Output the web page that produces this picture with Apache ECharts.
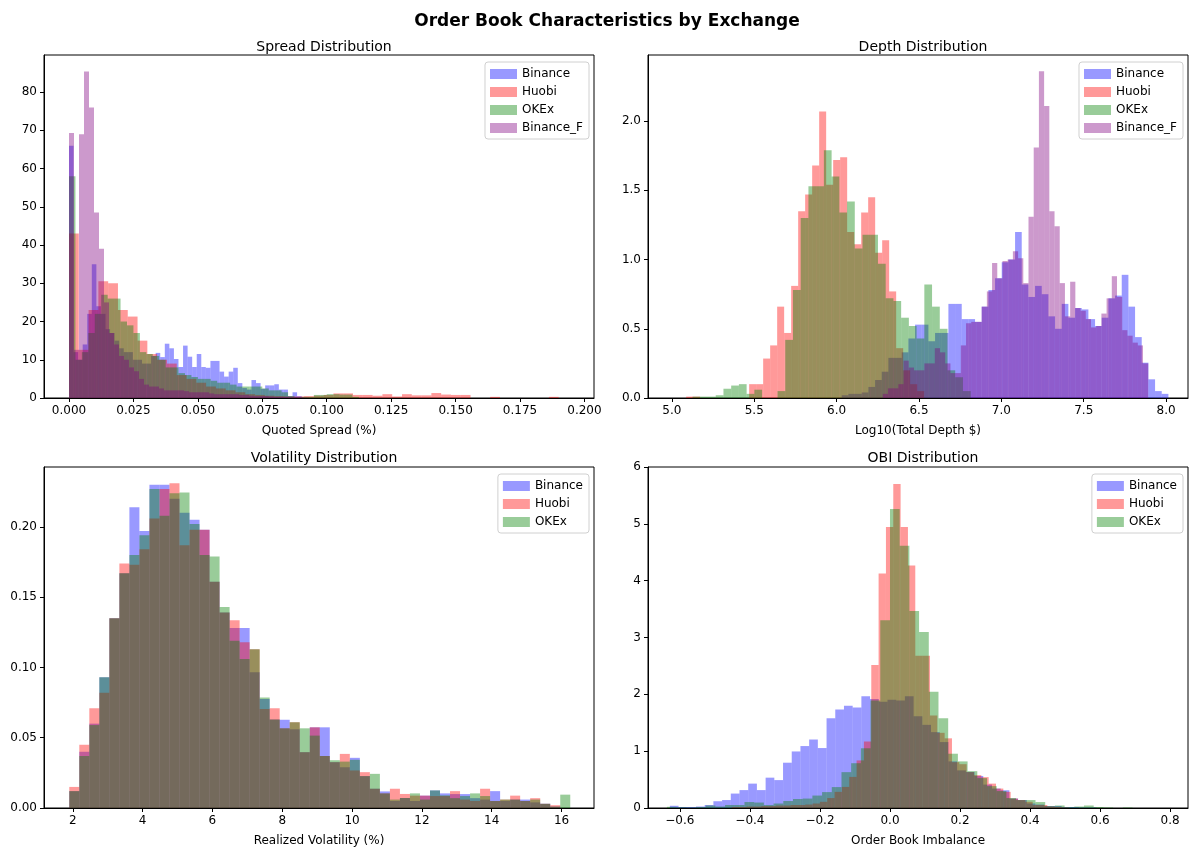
<!DOCTYPE html>
<html><head><meta charset="utf-8">
<script src="https://cdn.jsdelivr.net/npm/echarts@6/dist/echarts.min.js"></script>
<style>html,body{margin:0;padding:0;background:#fff}#c{width:1196px;height:848px}</style>
</head><body><div id="c"></div>
<script>
// ---------- DATA ----------
const exchanges4 = ['Binance', 'Huobi', 'OKEx', 'Binance_F'];
const exchanges3 = ['Binance', 'Huobi', 'OKEx'];

// Spread distribution (density) — bin start, bin width, heights
const spreadBinanceStart = 0, spreadBinanceWidth = 0.00177;
const spreadBinance = [66, 12, 10, 14, 22, 35, 24, 22, 18, 17, 15, 13, 12, 12, 10, 10, 9, 9, 11, 11.8, 10.7, 14.2, 13, 10.2, 8.1, 13.7, 10.8, 8.1, 11.5, 8.1, 7.9, 9.7, 9.7, 6.9, 5.6, 6.9, 7.9, 3.9, 2.6, 2.2, 4.7, 3.9, 2.4, 3.3, 3.3, 3.6, 2.2, 2.2, 0.5, 1.5, 0.5];
const spreadHuobiStart = 0, spreadHuobiWidth = 0.0038;
const spreadHuobi = [43, 12.6, 23, 30.5, 30, 23, 21.3, 15, 11.5, 10, 9, 6, 5, 4, 3, 2.5, 2, 1.5, 1, 0.8, 0.6, 0.5, 0.4, 0.4, 0.5, 0.6, 0.8, 1.2, 1.2, 0.8, 0.8, 0.6, 1.0, 0.4, 1.0, 0.7, 0.7, 1.3, 0.9, 0.8, 0.8, 0, 0, 0.3, 0, 0, 0, 0, 0, 0.3];
const spreadOKExStart = 0, spreadOKExWidth = 0.0025;
const spreadOKEx = [58, 10, 12, 17, 22, 27, 26, 26, 20, 19, 17, 12, 11.5, 11, 10, 8, 8, 6.5, 6, 5.5, 5, 5, 4.5, 4, 4, 3.5, 3, 3, 3, 3, 2.5, 2, 2, 1.5, 0.5, 0.2, 0.3, 0.3, 0.8, 0.8, 1.0, 1.0, 0.9, 0.9, 0.3];
const spreadBinanceFStart = 0, spreadBinanceFWidth = 0.00194;
const spreadBinanceF = [69.3, 12.6, 69, 85.4, 76, 48.5, 39, 25, 17, 14, 11, 10, 8, 7, 5, 3.5, 3, 3, 2.5, 2, 2, 2, 2, 1.8, 1.5, 1.5, 1.5, 1.5, 1.2, 1, 1, 1, 1, 1, 0.8, 0.8, 0.6, 0.5, 0.5, 0.5, 0.4, 0.3, 0.3, 0.3, 0.2, 0.2, 0.2, 0.1];

// Depth distribution (density over Log10 depth)
const depthBinanceStart = 6.031, depthBinanceWidth = 0.04047;
const depthBinance = [0.02, 0.03, 0.03, 0.04, 0.08, 0.13, 0.19, 0.29, 0.29, 0.33, 0.43, 0.53, 0.53, 0.41, 0.47, 0.47, 0.68, 0.68, 0.57, 0.57, 0.55, 0.66, 0.78, 0.865, 0.98, 1.0, 1.2, 0.82, 0.73, 0.81, 0.75, 0.59, 0.50, 0.68, 0.58, 0.65, 0.64, 0.57, 0.52, 0.58, 0.72, 0.74, 0.89, 0.66, 0.44, 0.255, 0.135, 0.05, 0.03];
const depthHuobiStart = 5.0865, depthHuobiWidth = 0.0425;
const depthHuobi = [0.01, 0.01, 0, 0, 0, 0, 0, 0, 0, 0.10, 0.10, 0.285, 0.38, 0.66, 0.47, 0.81, 1.35, 1.47, 1.68, 2.07, 1.54, 1.72, 1.74, 1.20, 1.11, 1.34, 1.45, 1.05, 1.14, 0.77, 0.36, 0.2, 0.1, 0.05];
const depthOKExStart = 5.1254, depthOKExWidth = 0.0469;
const depthOKEx = [0.01, 0.01, 0.01, 0.02, 0.067, 0.09, 0.10, 0.03, 0.06, 0, 0, 0.05, 0.42, 0.78, 1.30, 1.53, 1.53, 1.79, 1.60, 1.34, 1.42, 1.08, 1.18, 1.18, 0.97, 0.72, 0.70, 0.58, 0.52, 0.43, 0.82, 0.66, 0.50, 0.20, 0.15, 0.05];
const depthBinanceFStart = 6.28, depthBinanceFWidth = 0.0316;
const depthBinanceF = [0.03, 0.07, 0.07, 0.10, 0.27, 0.22, 0.2, 0.2, 0.25, 0.25, 0.36, 0.33, 0.25, 0.18, 0.18, 0.38, 0.54, 0.55, 0.55, 0.66, 0.77, 0.975, 0.865, 0.99, 1.0, 1.06, 1.01, 0.83, 1.31, 1.81, 2.36, 2.11, 1.35, 1.24, 0.83, 0.59, 0.84, 0.65, 0.63, 0.57, 0.51, 0.52, 0.61, 0.72, 0.88, 0.73, 0.49, 0.45, 0.40, 0.38, 0.25];

// Volatility distribution (density over realized volatility %)
const volStart = 1.9, volWidth = 0.287;
const volBinance = [0.012, 0.04, 0.06, 0.093, 0.135, 0.167, 0.214, 0.197, 0.23, 0.23, 0.22, 0.21, 0.205, 0.198, 0.161, 0.139, 0.128, 0.128, 0.0965, 0.0775, 0.063, 0.0628, 0.056, 0.0397, 0.0574, 0.0574, 0.0326, 0.029, 0.0357, 0.0227, 0.0137, 0.0118, 0.005, 0.0071, 0.005, 0.0088, 0.0125, 0.0104, 0.0099, 0.0099, 0.007, 0.006, 0.012, 0.005, 0.006, 0.006, 0.004, 0.003, 0.001, 0];
const volHuobi = [0.015, 0.045, 0.071, 0.082, 0.135, 0.174, 0.173, 0.184, 0.206, 0.227, 0.231, 0.187, 0.198, 0.198, 0.161, 0.139, 0.1335, 0.118, 0.113, 0.0704, 0.071, 0.0567, 0.061, 0.0397, 0.0574, 0.037, 0.0326, 0.0385, 0.0267, 0.0255, 0.0137, 0.0104, 0.0137, 0.010, 0.0088, 0.0088, 0.0085, 0.0085, 0.012, 0.006, 0.005, 0.0137, 0.005, 0.006, 0.0088, 0.005, 0.007, 0.003, 0.002, 0];
const volOKEx = [0.012, 0.037, 0.059, 0.093, 0.135, 0.167, 0.18, 0.194, 0.227, 0.208, 0.224, 0.2245, 0.202, 0.180, 0.179, 0.143, 0.119, 0.106, 0.113, 0.0787, 0.063, 0.0567, 0.061, 0.0567, 0.0515, 0.037, 0.034, 0.033, 0.0343, 0.0227, 0.0243, 0.0104, 0.006, 0.0071, 0.0104, 0.006, 0.0125, 0.009, 0.007, 0.0085, 0.0104, 0.0085, 0.005, 0.006, 0.006, 0.005, 0.006, 0.003, 0.001, 0.0095];

// Order book imbalance distribution (density)
const obiBinanceStart = -0.6286, obiBinanceWidth = 0.02486;
const obiBinance = [0.039, 0.018, 0.018, 0.026, 0.053, 0.119, 0.140, 0.254, 0.315, 0.429, 0.315, 0.534, 0.491, 0.797, 0.995, 1.090, 1.205, 1.055, 1.580, 1.731, 1.801, 1.769, 1.966, 1.918, 1.871, 1.906, 1.892, 1.966, 1.615, 1.463, 1.335, 1.160, 0.820, 0.662, 0.634, 0.564, 0.412, 0.342, 0.312, 0.166, 0.140, 0.079, 0.061, 0.035, 0.035, 0.018, 0.018, 0.009, 0.009];
const obiHuobiStart = -0.4515, obiHuobiWidth = 0.02095;
const obiHuobi = [0.018, 0.018, 0.026, 0.026, 0.035, 0.035, 0.044, 0.044, 0.053, 0.053, 0.061, 0.079, 0.109, 0.175, 0.284, 0.371, 0.547, 0.837, 1.170, 2.514, 4.126, 4.944, 5.703, 4.944, 4.266, 2.677, 2.677, 1.626, 1.323, 1.226, 0.806, 0.771, 0.631, 0.578, 0.543, 0.429, 0.342, 0.284, 0.166, 0.140, 0.109, 0.053, 0.053, 0.026, 0.018, 0.009];
const obiOKExStart = -0.6371, obiOKExWidth = 0.0277;
const obiOKEx = [0.021, 0.014, 0.009, 0.018, 0.044, 0.026, 0.053, 0.053, 0.105, 0.096, 0.053, 0.079, 0.123, 0.158, 0.166, 0.219, 0.280, 0.368, 0.631, 0.788, 1.051, 1.892, 3.302, 5.259, 4.616, 3.465, 3.097, 2.046, 1.580, 0.955, 0.820, 0.648, 0.526, 0.385, 0.298, 0.175, 0.140, 0.140, 0.105, 0.035, 0.044, 0.018, 0.026, 0.044, 0.018, 0.009, 0, 0.009, 0];

// Tick labels
const spreadXTicks = [0, 0.025, 0.05, 0.075, 0.1, 0.125, 0.15, 0.175, 0.2];
const spreadYTicks = [0, 10, 20, 30, 40, 50, 60, 70, 80];
const depthXTicks = [5.0, 5.5, 6.0, 6.5, 7.0, 7.5, 8.0];
const depthYTicks = [0, 0.5, 1.0, 1.5, 2.0];
const volXTicks = [2, 4, 6, 8, 10, 12, 14, 16];
const volYTicks = [0, 0.05, 0.10, 0.15, 0.20];
const obiXTicks = [-0.6, -0.4, -0.2, 0, 0.2, 0.4, 0.6, 0.8];
const obiYTicks = [0, 1, 2, 3, 4, 5, 6];

// ---------- CHART ----------
const FONT = 'DejaVu Sans';
const COLORS = {Binance: 'rgba(0,0,255,0.4)', Huobi: 'rgba(255,0,0,0.4)', OKEx: 'rgba(0,128,0,0.4)', Binance_F: 'rgba(128,0,128,0.4)'};

function bins(start, width, heights) {
  return heights.map((h, i) => [start + i * width, start + (i + 1) * width, h]);
}
function hist(name, idx, data) {
  return {
    type: 'custom', name: name, xAxisIndex: idx, yAxisIndex: idx, data: data,
    encode: {x: [0, 1], y: 2},
    itemStyle: {color: COLORS[name]},
    renderItem: function (params, api) {
      const a = api.coord([api.value(0), api.value(2)]);
      const b = api.coord([api.value(1), 0]);
      return {type: 'rect', shape: {x: a[0], y: a[1], width: b[0] - a[0], height: b[1] - a[1]},
        style: {fill: COLORS[name]}};
    }
  };
}
const minus = s => s.replace('-', '\u2212');
function xAx(idx, min, max, ticks, dec, name) {
  return {type: 'value', gridIndex: idx, min: min, max: max, name: name, nameLocation: 'middle', nameGap: 27,
    nameTextStyle: {color: '#000', fontSize: 12, fontFamily: FONT},
    axisLine: {show: true, onZero: false, lineStyle: {color: '#000', width: 1}},
    axisTick: {show: true, inside: false, length: 4, customValues: ticks, lineStyle: {color: '#000'}},
    axisLabel: {customValues: ticks, formatter: v => minus(Number(v).toFixed(dec)), margin: 7, color: '#000', fontSize: 12, fontFamily: FONT},
    splitLine: {show: false}};
}
function yAx(idx, min, max, ticks, dec) {
  return {type: 'value', gridIndex: idx, min: min, max: max,
    axisLine: {show: true, onZero: false, lineStyle: {color: '#000', width: 1}},
    axisTick: {show: true, inside: false, length: 4, customValues: ticks, lineStyle: {color: '#000'}},
    axisLabel: {customValues: ticks, formatter: v => minus(Number(v).toFixed(dec)), margin: 7, color: '#000', fontSize: 12, fontFamily: FONT},
    splitLine: {show: false}};
}
function leg(names, right, top) {
  return {data: names.map(n => ({name: n, itemStyle: {color: COLORS[n]}})), orient: 'vertical', right: right, top: top,
    icon: 'rect', itemWidth: 27, itemHeight: 10, itemGap: 4, padding: [5, 6, 4, 5],
    backgroundColor: 'rgba(255,255,255,0.8)', borderColor: '#d0d0d0', borderWidth: 1, borderRadius: 3,
    selectedMode: false, textStyle: {color: '#000', fontSize: 12, fontFamily: FONT, lineHeight: 14}};
}
const titleStyle = {fontSize: 14, fontWeight: 'normal', color: '#000', fontFamily: FONT};

const option = {
  animation: false,
  backgroundColor: '#fff',
  title: [
    {text: 'Order Book Characteristics by Exchange', left: 602, top: 8, textAlign: 'center', textStyle: {fontSize: 17, fontWeight: 'bold', color: '#000', fontFamily: FONT}},
    {text: 'Spread Distribution', left: 319, top: 35, textAlign: 'center', textStyle: titleStyle},
    {text: 'Depth Distribution', left: 918, top: 35, textAlign: 'center', textStyle: titleStyle},
    {text: 'Volatility Distribution', left: 319, top: 446, textAlign: 'center', textStyle: titleStyle},
    {text: 'OBI Distribution', left: 918, top: 446, textAlign: 'center', textStyle: titleStyle}
  ],
  grid: [
    {left: 44, top: 55, width: 550, height: 343, show: true, borderColor: '#000', borderWidth: 1},
    {left: 648, top: 55, width: 540, height: 343, show: true, borderColor: '#000', borderWidth: 1},
    {left: 44, top: 467, width: 550, height: 342.5, show: true, borderColor: '#000', borderWidth: 1},
    {left: 648, top: 467, width: 540, height: 342.5, show: true, borderColor: '#000', borderWidth: 1}
  ],
  xAxis: [
    xAx(0, -0.0097, 0.2037, spreadXTicks, 3, 'Quoted Spread (%)'),
    xAx(1, 4.855, 8.133, depthXTicks, 1, 'Log10(Total Depth $)'),
    xAx(2, 1.176, 16.93, volXTicks, 0, 'Realized Volatility (%)'),
    xAx(3, -0.691, 0.851, obiXTicks, 1, 'Order Book Imbalance')
  ],
  yAxis: [
    yAx(0, 0, 89.7, spreadYTicks, 0),
    yAx(1, 0, 2.478, depthYTicks, 1),
    yAx(2, 0, 0.2426, volYTicks, 2),
    yAx(3, 0, 6.0, obiYTicks, 0)
  ],
  legend: [
    leg(exchanges4, 1196 - 589, 62),
    leg(exchanges4, 1196 - 1183, 62),
    leg(exchanges3, 1196 - 589, 474),
    leg(exchanges3, 1196 - 1183, 474)
  ],
  series: [
    hist('Binance', 0, bins(spreadBinanceStart, spreadBinanceWidth, spreadBinance)),
    hist('Huobi', 0, bins(spreadHuobiStart, spreadHuobiWidth, spreadHuobi)),
    hist('OKEx', 0, bins(spreadOKExStart, spreadOKExWidth, spreadOKEx)),
    hist('Binance_F', 0, bins(spreadBinanceFStart, spreadBinanceFWidth, spreadBinanceF)),
    hist('Binance', 1, bins(depthBinanceStart, depthBinanceWidth, depthBinance)),
    hist('Huobi', 1, bins(depthHuobiStart, depthHuobiWidth, depthHuobi)),
    hist('OKEx', 1, bins(depthOKExStart, depthOKExWidth, depthOKEx)),
    hist('Binance_F', 1, bins(depthBinanceFStart, depthBinanceFWidth, depthBinanceF)),
    hist('Binance', 2, bins(volStart, volWidth, volBinance)),
    hist('Huobi', 2, bins(volStart, volWidth, volHuobi)),
    hist('OKEx', 2, bins(volStart, volWidth, volOKEx)),
    hist('Binance', 3, bins(obiBinanceStart, obiBinanceWidth, obiBinance)),
    hist('Huobi', 3, bins(obiHuobiStart, obiHuobiWidth, obiHuobi)),
    hist('OKEx', 3, bins(obiOKExStart, obiOKExWidth, obiOKEx))
  ]
};
const chart = echarts.init(document.getElementById('c'), null, {renderer: 'canvas'});
chart.setOption(option);
</script>
</body></html>
